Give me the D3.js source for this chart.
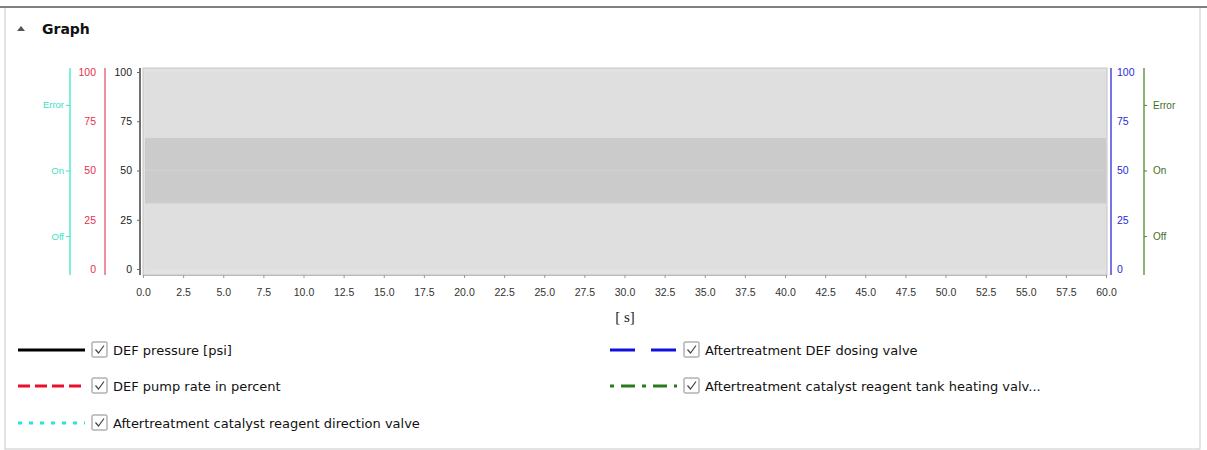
<!DOCTYPE html>
<html>
<head>
<meta charset="utf-8">
<script src="https://cdn.jsdelivr.net/npm/d3@7"></script>
<style>
  html, body { margin: 0; padding: 0; background: #fff; }
  svg { display: block; font-family: "DejaVu Sans", sans-serif; }
</style>
</head>
<body>
<div id="chart"></div>
<script>
// time axis [s]
const timeTicks = [0, 2.5, 5, 7.5, 10, 12.5, 15, 17.5, 20, 22.5, 25, 27.5, 30, 32.5, 35, 37.5, 40, 42.5, 45, 47.5, 50, 52.5, 55, 57.5, 60];
const valueTicks = [0, 25, 50, 75, 100];
const stateNames = ["Off", "On", "Error"];
const stateCentres = [16.7, 50, 83.3];
const stateBandFrom = [0, 33.3, 66.7];
const stateBandTo = [33.3, 66.7, 100];
const stateBandFill = ["#dfdfdf", "#cbcbcb", "#dfdfdf"];

const seriesNames = [
  "DEF pressure [psi]",
  "DEF pump rate in percent",
  "Aftertreatment catalyst reagent direction valve",
  "Aftertreatment DEF dosing valve",
  "Aftertreatment catalyst reagent tank heating valv...",
];
const seriesColors = ["#000000", "#e8112d", "#22e8d8", "#1010e0", "#2d7a1a"];
const seriesDash = ["none", "12 5", "4 7", "25 16", "4 7 14 7"];
// no samples recorded in the visible window
const seriesValues = [[], [], [], [], []];

(function () {
  const width = 1207;
  const height = 450;
  const plot = { left: 143, right: 1107, top: 68, bottom: 275 };

  const svg = d3.select("#chart").append("svg").attr("width", width).attr("height", height);

  // panel frame
  svg.append("rect").attr("x", 5).attr("y", 7).attr("width", 1195).attr("height", 442)
    .attr("fill", "none").attr("stroke", "#c8c8c8").attr("stroke-width", 1);
  svg.append("line").attr("x1", 0).attr("x2", 1207).attr("y1", 7).attr("y2", 7)
    .attr("stroke", "#808080").attr("stroke-width", 2);

  svg.append("path").attr("d", "M17,31 L21,26 L25,31 Z").attr("fill", "#555");
  svg.append("text").attr("x", 42).attr("y", 34).attr("font-size", "14px").attr("font-weight", "bold")
    .attr("fill", "#111").text("Graph");

  const x = d3.scaleLinear().domain([0, 60]).range([plot.left, plot.right - 1]);
  const y = d3.scaleLinear().domain([0, 100]).range([269, 72]);

  // plot background and state bands
  svg.append("rect").attr("x", plot.left).attr("y", plot.top)
    .attr("width", plot.right - plot.left).attr("height", plot.bottom - plot.top)
    .attr("fill", "#e2e2e2").attr("stroke", "#c4c4c4");
  svg.append("g").selectAll("rect").data(stateNames).join("rect")
    .attr("x", plot.left + 2)
    .attr("width", plot.right - plot.left - 3)
    .attr("y", (d, i) => y(stateBandTo[i]))
    .attr("height", (d, i) => y(stateBandFrom[i]) - y(stateBandTo[i]))
    .attr("fill", (d, i) => stateBandFill[i]);
  svg.append("line").attr("x1", plot.left + 2).attr("x2", plot.right - 2)
    .attr("y1", y(50)).attr("y2", y(50)).attr("stroke", "#d2d2d2");

  // series lines (empty in this capture)
  const line = d3.line().x((d) => x(d[0])).y((d) => y(d[1]));
  svg.append("g").selectAll("path").data(seriesValues).join("path")
    .attr("fill", "none")
    .attr("stroke", (d, i) => seriesColors[i])
    .attr("stroke-width", 2)
    .attr("stroke-dasharray", (d, i) => seriesDash[i])
    .attr("d", (d) => (d.length ? line(d) : null));

  function styleAxis(g, color, textColor, size) {
    g.select(".domain").remove();
    g.selectAll("line").attr("stroke", color);
    g.selectAll("text").attr("fill", textColor).attr("font-size", size);
  }

  function axisLine(xPos, color) {
    svg.append("line").attr("x1", xPos).attr("x2", xPos).attr("y1", plot.top).attr("y2", plot.bottom)
      .attr("stroke", color).attr("stroke-width", 1.3);
  }

  // left state axis (cyan)
  axisLine(70, "#3fe6c8");
  svg.append("g").attr("transform", "translate(70,0)")
    .call(d3.axisLeft(y).tickValues(stateCentres).tickFormat((d, i) => stateNames[i]).tickSize(4).tickPadding(2))
    .call((g) => styleAxis(g, "#3fe6c8", "#3fe0c4", "9.5px"));

  // left percent axis (red)
  axisLine(105, "#e8506e");
  svg.append("g").attr("transform", "translate(105,0)")
    .call(d3.axisLeft(y).tickValues(valueTicks).tickSize(0).tickPadding(9))
    .call((g) => styleAxis(g, "#e8506e", "#e8304e", "10.5px"));

  // left pressure axis (black)
  axisLine(140, "#222");
  svg.append("g").attr("transform", "translate(140,0)")
    .call(d3.axisLeft(y).tickValues(valueTicks).tickSize(3).tickPadding(5))
    .call((g) => styleAxis(g, "#666", "#222", "10.5px"));

  // right dosing valve axis (blue)
  axisLine(1111, "#2a2ad8");
  svg.append("g").attr("transform", "translate(1111,0)")
    .call(d3.axisRight(y).tickValues(valueTicks).tickSize(0).tickPadding(6))
    .call((g) => styleAxis(g, "#2a2ad8", "#2a2ad8", "10.5px"));

  // right state axis (green)
  axisLine(1144, "#4d8a2a");
  svg.append("g").attr("transform", "translate(1144,0)")
    .call(d3.axisRight(y).tickValues(stateCentres).tickFormat((d, i) => stateNames[i]).tickSize(3).tickPadding(6))
    .call((g) => styleAxis(g, "#4d8a2a", "#3f6e1e", "10px"));

  // time axis
  svg.append("g").attr("transform", `translate(0,${plot.bottom})`)
    .call(d3.axisBottom(x).tickValues(timeTicks).tickFormat(d3.format(".1f")).tickSize(3).tickPadding(11))
    .call((g) => g.select(".domain").attr("stroke", "#bbb"))
    .call((g) => g.selectAll("line").attr("stroke", "#999"))
    .call((g) => g.selectAll("text").attr("fill", "#333").attr("font-size", "10.5px"));

  svg.append("text").attr("x", (plot.left + plot.right) / 2).attr("y", 322)
    .attr("text-anchor", "middle").attr("font-family", "Liberation Serif, serif")
    .attr("font-size", "15px").attr("fill", "#222").text("[ s]");

  // legend
  const legendCols = [18, 610];
  const legendRows = [350, 386, 423];
  const legendPos = [[0, 0], [0, 1], [0, 2], [1, 0], [1, 1]];
  const legend = svg.append("g").selectAll("g").data(seriesNames).join("g")
    .attr("transform", (d, i) => `translate(${legendCols[legendPos[i][0]]},${legendRows[legendPos[i][1]]})`);

  legend.append("line").attr("x1", 0).attr("x2", 67).attr("y1", 0).attr("y2", 0)
    .attr("stroke", (d, i) => seriesColors[i])
    .attr("stroke-width", 3.2)
    .attr("stroke-dasharray", (d, i) => seriesDash[i]);
  legend.append("rect").attr("x", 74).attr("y", -8).attr("width", 15).attr("height", 15)
    .attr("fill", "#fff").attr("stroke", "#8a8a8a").attr("rx", 1);
  legend.append("path").attr("d", "M77.5,-0.5 L80.5,3 L86,-4.5")
    .attr("fill", "none").attr("stroke", "#444").attr("stroke-width", 1.2);
  legend.append("text").attr("x", 95).attr("y", 4.5).attr("font-size", "13px").attr("fill", "#111")
    .text((d) => d);
})();
</script>
</body>
</html>
